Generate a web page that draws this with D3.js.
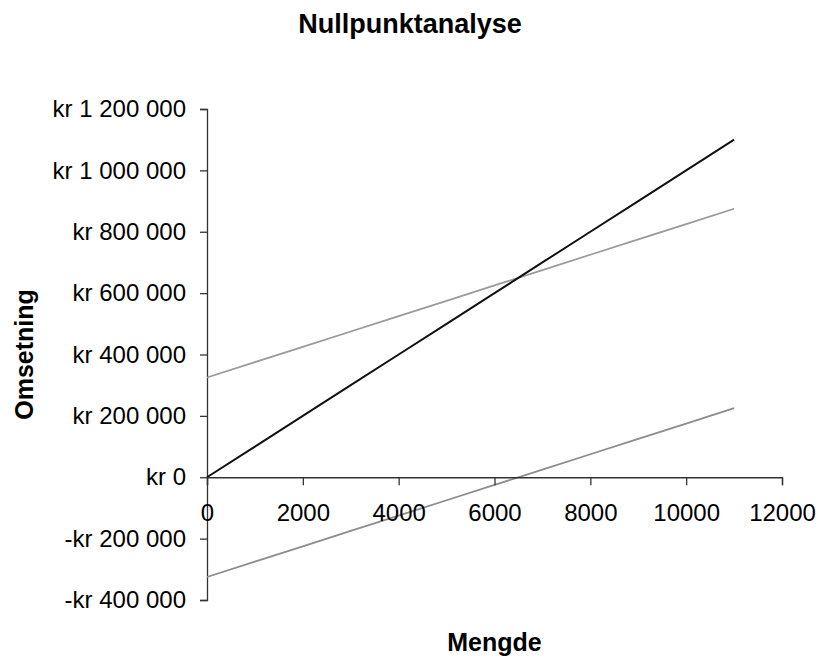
<!DOCTYPE html>
<html>
<head>
<meta charset="utf-8">
<script src="https://cdn.jsdelivr.net/npm/d3@7"></script>
<style>
  body { margin: 0; background: #fff; }
  svg { font-family: "Liberation Sans", Arial, sans-serif; }
</style>
</head>
<body>
<svg width="818" height="657"></svg>
<script>
// mengde (enheter)
var quantities = [0, 1000, 2000, 3000, 4000, 5000, 6000, 7000, 8000, 9000, 10000, 11000];
// omsetning, totale kostnader og resultat (kr)
var revenue = [0, 100000, 200000, 300000, 400000, 500000, 600000, 700000, 800000, 900000, 1000000, 1100000];
var totalCost = [325000, 375000, 425000, 475000, 525000, 575000, 625000, 675000, 725000, 775000, 825000, 875000];
var result = [-325000, -275000, -225000, -175000, -125000, -75000, -25000, 25000, 75000, 125000, 175000, 225000];

var xTicks = [0, 2000, 4000, 6000, 8000, 10000, 12000];
var yTicks = [-400000, -200000, 0, 200000, 400000, 600000, 800000, 1000000, 1200000];

var svg = d3.select("svg");

var x = d3.scaleLinear().domain([0, 12000]).range([207, 782]);
var y = d3.scaleLinear().domain([-400000, 1200000]).range([600, 109]);

var nok = d3.formatLocale({ decimal: ",", thousands: " ", grouping: [3], currency: ["", ""] }).format(",");
function kr(v) {
	return v < 0 ? "-kr " + nok(-v) : "kr " + nok(v);
}

// title
svg.append("text")
	.attr("x", 410)
	.attr("y", 33)
	.attr("text-anchor", "middle")
	.style("font-size", "27px")
	.style("font-weight", "bold")
	.text("Nullpunktanalyse");

// y axis
var yAxis = svg.append("g")
	.attr("transform", "translate(" + x(0) + ",0)")
	.call(d3.axisLeft(y).tickValues(yTicks).tickFormat(kr).tickSize(7).tickPadding(14));
yAxis.select(".domain").attr("stroke", "#333").attr("stroke-width", 1.3);
yAxis.selectAll(".tick line").attr("stroke", "#333").attr("stroke-width", 1.3);
yAxis.selectAll(".tick text")
	.attr("x", -21)
	.attr("fill", "#000")
	.style("font-size", "24px")
	.style("font-family", "\"Liberation Sans\", Arial, sans-serif");

// lines
var line = d3.line()
	.x(function(d) { return x(d[0]); })
	.y(function(d) { return y(d[1]); });

var series = [
	{ name: "Resultat", values: result, color: "#8c8c8c", width: 1.8 },
	{ name: "Totale kostnader", values: totalCost, color: "#9a9a9a", width: 1.8 },
	{ name: "Omsetning", values: revenue, color: "#111", width: 2 }
];

svg.selectAll("path.series")
	.data(series)
	.enter().append("path")
	.attr("class", "series")
	.attr("fill", "none")
	.attr("stroke", function(d) { return d.color; })
	.attr("stroke-width", function(d) { return d.width; })
	.attr("d", function(d) { return line(quantities.map(function(q, i) { return [q, d.values[i]]; })); });

// x axis at kr 0
var xAxis = svg.append("g")
	.attr("transform", "translate(0," + y(0) + ")")
	.call(d3.axisBottom(x).tickValues(xTicks).tickFormat(d3.format("d")).tickSize(8).tickSizeOuter(8));
xAxis.select(".domain").attr("stroke", "#333").attr("stroke-width", 1.3);
xAxis.selectAll(".tick line").attr("stroke", "#333").attr("stroke-width", 1.3);
xAxis.selectAll(".tick text")
	.attr("y", 44)
	.attr("dy", 0)
	.attr("fill", "#000")
	.style("font-size", "24px")
	.style("font-family", "\"Liberation Sans\", Arial, sans-serif");

// axis titles
svg.append("text")
	.attr("x", (x(0) + x(12000)) / 2)
	.attr("y", 651)
	.attr("text-anchor", "middle")
	.style("font-size", "25px")
	.style("font-weight", "bold")
	.text("Mengde");

svg.append("text")
	.attr("transform", "translate(33," + ((y(-400000) + y(1200000)) / 2) + ") rotate(-90)")
	.attr("text-anchor", "middle")
	.style("font-size", "25px")
	.style("font-weight", "bold")
	.text("Omsetning");
</script>
</body>
</html>
